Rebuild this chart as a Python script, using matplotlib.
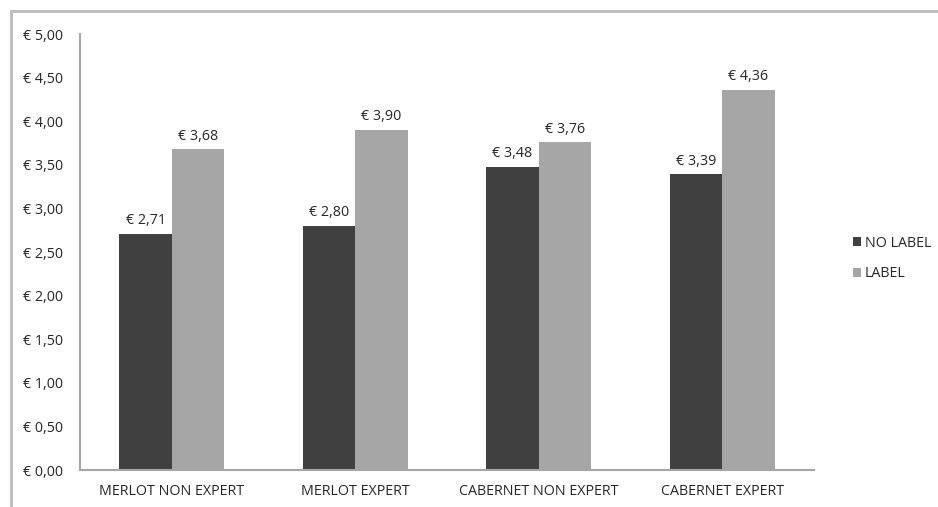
import matplotlib
matplotlib.use("Agg")
import matplotlib.pyplot as plt
import numpy as np
from matplotlib.patches import Rectangle

categories = ["MERLOT NON EXPERT", "MERLOT EXPERT", "CABERNET NON EXPERT", "CABERNET EXPERT"]
no_label = [2.71, 2.80, 3.48, 3.39]
label = [3.68, 3.90, 3.76, 4.36]
series_names = ["NO LABEL", "LABEL"]
y_ticks = [0.0, 0.5, 1.0, 1.5, 2.0, 2.5, 3.0, 3.5, 4.0, 4.5, 5.0]


def euro(value):
    return "€ " + f"{value:.2f}".replace(".", ",")


plt.rcParams["font.family"] = ["Open Sans", "DejaVu Sans"]
text_color = "#262626"
dark, light = "#404040", "#a6a6a6"
fs = 10.3

fig = plt.figure(figsize=(9.38, 5.07), dpi=100)
fig.patches.append(Rectangle((11 / 938, -0.1), 1.2, 1 - 11 / 507 + 0.1, transform=fig.transFigure,
                             fill=False, edgecolor="#bfbfbf", linewidth=2.2))
ax = fig.add_axes([80 / 938, 1 - 470 / 507, (814 - 80) / 938, (470 - 34) / 507])

x = np.arange(len(categories))
width = 0.285
bars_a = ax.bar(x - width / 2, no_label, width, color=dark, label=series_names[0])
bars_b = ax.bar(x + width / 2, label, width, color=light, label=series_names[1])

for bars in (bars_a, bars_b):
    for bar in bars:
        ax.annotate(euro(bar.get_height()), (bar.get_x() + bar.get_width() / 2, bar.get_height()),
                    xytext=(0, 4), textcoords="offset points", ha="center", va="bottom",
                    fontsize=fs, color=text_color)

ax.set_xlim(-0.5, len(categories) - 0.5)
ax.set_ylim(0, 5)
ax.set_yticks(y_ticks)
ax.set_yticklabels([euro(v) for v in y_ticks])
ax.set_xticks(x)
ax.set_xticklabels(categories)
ax.tick_params(axis="both", length=0, labelsize=fs, labelcolor=text_color)
ax.tick_params(axis="y", pad=12)
ax.tick_params(axis="x", pad=10)
for side in ("top", "right"):
    ax.spines[side].set_visible(False)
for side in ("left", "bottom"):
    ax.spines[side].set_color("#a6a6a6")
    ax.spines[side].set_linewidth(1.5)

ax.legend(loc="center left", bbox_to_anchor=(1.035, 0.485), frameon=False, fontsize=fs,
          handlelength=0.6, handleheight=0.6, handletextpad=0.25, labelspacing=1.1,
          labelcolor=text_color)

fig.savefig("out.png", dpi=100)
